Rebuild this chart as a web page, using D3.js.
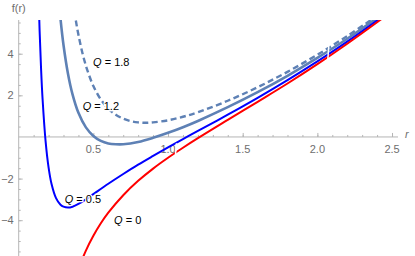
<!DOCTYPE html>
<html>
<head>
<meta charset="utf-8">
<script src="https://cdn.jsdelivr.net/npm/d3@7"></script>
<style>
  body { margin: 0; background: #fff; }
  text { font-family: "Liberation Sans", Arial, sans-serif; }
</style>
</head>
<body>
<div id="chart"></div>
<script>
// values
var rQ0  = [0.40, 0.45, 0.50, 0.55, 0.60, 0.70, 0.80, 0.90, 1.00, 1.10, 1.20, 1.40, 1.60, 1.80, 2.00, 2.20, 2.40, 2.50];
var fQ0  = [-6.34, -5.46, -4.75, -4.15, -3.64, -2.80, -2.11, -1.52, -1.00, -0.52, -0.06, 0.82, 1.69, 2.57, 3.50, 4.48, 5.51, 6.05];

var rQ05 = [0.12, 0.13, 0.14, 0.15, 0.16, 0.18, 0.20, 0.22, 0.25, 0.28, 0.30, 0.33, 0.36, 0.40, 0.45, 0.50, 0.60, 0.70, 0.80, 0.90, 1.00, 1.10, 1.20, 1.40, 1.60, 1.80, 2.00, 2.20, 2.40, 2.50];
var fQ05 = [10.74, 7.53, 5.10, 3.24, 1.81, -0.20, -1.46, -2.26, -2.94, -3.26, -3.35, -3.39, -3.35, -3.22, -3.00, -2.75, -2.25, -1.78, -1.33, -0.91, -0.50, -0.10, 0.29, 1.07, 1.88, 2.73, 3.63, 4.58, 5.60, 6.13];

var rQ12 = [0.26, 0.28, 0.30, 0.33, 0.36, 0.40, 0.45, 0.50, 0.55, 0.60, 0.65, 0.70, 0.80, 0.90, 1.00, 1.10, 1.20, 1.40, 1.60, 1.80, 2.00, 2.20, 2.40];
var fQ12 = [7.28, 5.67, 4.42, 3.04, 2.06, 1.16, 0.46, 0.05, -0.19, -0.31, -0.35, -0.35, -0.24, -0.04, 0.20, 0.47, 0.77, 1.43, 2.15, 2.94, 3.80, 4.72, 5.72];

var rQ18 = [0.34, 0.36, 0.38, 0.40, 0.43, 0.46, 0.50, 0.55, 0.60, 0.65, 0.70, 0.75, 0.80, 0.85, 0.90, 1.00, 1.10, 1.20, 1.40, 1.60, 1.80, 2.00, 2.20, 2.40];
var fQ18 = [7.86, 6.69, 5.71, 4.91, 3.94, 3.20, 2.45, 1.80, 1.36, 1.07, 0.88, 0.76, 0.70, 0.68, 0.70, 0.80, 0.97, 1.19, 1.74, 2.39, 3.13, 3.95, 4.85, 5.82];

var xMajor = [0.5, 1.0, 1.5, 2.0, 2.5];
var yMajor = [-4, -2, 2, 4];

var labelText = ["1.8", "1.2", "0.5", "0"];
var labelR    = [0.62, 0.55, 0.43, 0.73];
var labelF    = [3.40, 1.28, -3.19, -4.20];

// little white breaks in the curves
var cutR  = [1.05, 2.07];
var cutLo = [-0.85, 3.72];
var cutHi = [-0.30, 4.40];

var svgWidth = 415;
var svgHeight = 256;

var svg = d3.select("#chart")
  .append("svg")
  .attr("width", svgWidth)
  .attr("height", svgHeight);

var x = d3.scaleLinear().domain([0, 2.54]).range([18.7, 398]);
var y = d3.scaleLinear().domain([-5.72, 5.62]).range([256, 20]);

var axisColor = "#b5b5b5";
var labelColor = "#6e6e6e";

// axes, ticks pointing inward like the original
var xAxis = svg.append("g")
  .attr("transform", `translate(0, ${y(0)})`)
  .call(d3.axisTop(x).tickValues(d3.range(1, 26).map(d => d / 10)).tickSize(2).tickFormat(""));
var xAxisMajor = svg.append("g")
  .attr("transform", `translate(0, ${y(0)})`)
  .call(d3.axisTop(x).tickValues(xMajor).tickSize(4).tickFormat(""));

var yAxis = svg.append("g")
  .attr("transform", `translate(${x(0)}, 0)`)
  .call(d3.axisRight(y).tickValues(d3.range(-11, 12).filter(d => d != 0).map(d => d / 2)).tickSize(2).tickFormat(""));
var yAxisMajor = svg.append("g")
  .attr("transform", `translate(${x(0)}, 0)`)
  .call(d3.axisRight(y).tickValues(yMajor).tickSize(4).tickFormat(""));

svg.selectAll(".tick line").attr("stroke", axisColor);
// domain path has end caps from d3, replace with plain lines
svg.selectAll(".domain").remove();
svg.append("line")
  .attr("x1", x(0)).attr("x2", 398)
  .attr("y1", y(0)).attr("y2", y(0))
  .attr("stroke", axisColor);
svg.append("line")
  .attr("x1", x(0)).attr("x2", x(0))
  .attr("y1", 20).attr("y2", 256)
  .attr("stroke", axisColor);

// tick labels
svg.selectAll(".xlab")
  .data(xMajor)
  .enter()
  .append("text")
  .attr("x", d => x(d))
  .attr("y", y(0) + 16)
  .attr("text-anchor", "middle")
  .attr("font-size", "11px")
  .attr("fill", labelColor)
  .text(d => d.toFixed(1));

svg.selectAll(".ylab")
  .data(yMajor)
  .enter()
  .append("text")
  .attr("x", x(0) - 5)
  .attr("y", d => y(d) + 4)
  .attr("text-anchor", "end")
  .attr("font-size", "11px")
  .attr("fill", labelColor)
  .text(d => d < 0 ? "\u2212" + Math.abs(d) : d);

svg.append("text")
  .attr("x", x(0))
  .attr("y", 12)
  .attr("text-anchor", "middle")
  .attr("font-size", "11px")
  .attr("fill", labelColor)
  .text("f(r)");

svg.append("text")
  .attr("x", 405)
  .attr("y", y(0) + 1)
  .attr("font-size", "11px")
  .attr("font-style", "italic")
  .attr("fill", labelColor)
  .text("r");

// curves
svg.append("clipPath")
  .attr("id", "plotClip")
  .append("rect")
  .attr("x", x(0)).attr("y", 20)
  .attr("width", 398 - x(0)).attr("height", 236);

var line = d3.line()
  .x(d => x(d[0]))
  .y(d => y(d[1]))
  .curve(d3.curveCatmullRom.alpha(0.5));

var curves = [
  { r: rQ18, f: fQ18, color: "#5e81b5", width: 2.4, dash: "6,3.5" },
  { r: rQ12, f: fQ12, color: "#5e81b5", width: 2.6, dash: null },
  { r: rQ05, f: fQ05, color: "#0000ff", width: 2, dash: null },
  { r: rQ0,  f: fQ0,  color: "#ff0000", width: 2, dash: null }
];

var curveGroup = svg.append("g").attr("clip-path", "url(#plotClip)");

curves.forEach(function(c) {
  curveGroup.append("path")
    .datum(c.r.map((r, i) => [r, c.f[i]]))
    .attr("d", line)
    .attr("fill", "none")
    .attr("stroke", c.color)
    .attr("stroke-width", c.width)
    .attr("stroke-dasharray", c.dash);
});

curveGroup.selectAll(".cut")
  .data(cutR)
  .enter()
  .append("line")
  .attr("x1", (d, i) => x(d))
  .attr("x2", (d, i) => x(d) + 1)
  .attr("y1", (d, i) => y(cutLo[i]))
  .attr("y2", (d, i) => y(cutHi[i]))
  .attr("stroke", "#fff")
  .attr("stroke-width", 1.5);

// curve labels, white halo hides the line under the text
var labels = svg.selectAll(".qlab")
  .data(labelText)
  .enter()
  .append("text")
  .attr("x", (d, i) => x(labelR[i]))
  .attr("y", (d, i) => y(labelF[i]))
  .attr("text-anchor", "middle")
  .attr("font-size", "11px")
  .attr("fill", "#000")
  .attr("stroke", "#fff")
  .attr("stroke-width", 2.5)
  .attr("paint-order", "stroke");
labels.append("tspan").attr("font-style", "italic").text("Q");
labels.append("tspan").text(d => " = " + d);
</script>
</body>
</html>
